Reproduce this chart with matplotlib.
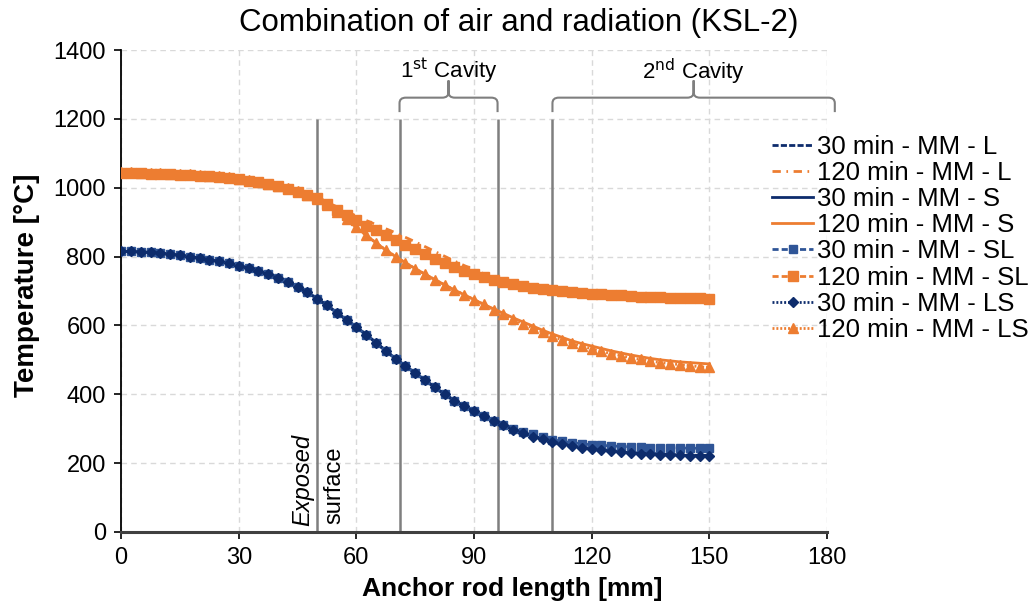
"""
Anchor rod temperature profiles, KSL-2, air + radiation boundary.
30 min vs 120 min for the four MM variants (L, S, SL, LS).
"""
import matplotlib
import numpy as np

matplotlib.use("Agg")
import matplotlib.pyplot as plt  # noqa: E402
from matplotlib.path import Path  # noqa: E402
from matplotlib.patches import PathPatch  # noqa: E402

# ---- data ----
rod_mm = np.arange(0, 150.1, 2.5)

t30_L = [815, 815, 814, 812, 810, 807, 804, 800, 796, 791,
         786, 780, 774, 766, 758, 748, 738, 726, 712, 696,
         678, 658, 637, 616, 595, 573, 550, 526, 503, 482,
         461, 441, 420, 400, 381, 365, 350, 336, 322, 310,
         299, 289, 279, 271, 263, 257, 251, 246, 242, 239,
         236, 233, 231, 229, 228, 226, 225, 224, 223, 222, 222]
t120_L = [1046, 1046, 1045, 1044, 1043, 1042, 1041, 1040, 1038, 1036,
          1034, 1031, 1028, 1024, 1019, 1013, 1007, 1000, 992, 984,
          975, 958, 945, 931, 918, 905, 893, 881, 869, 856,
          843, 829, 815, 801, 787, 774, 762, 750, 740, 731,
          724, 718, 712, 707, 703, 700, 697, 695, 693, 691,
          689, 688, 686, 685, 684, 683, 682, 681, 680, 680, 679]
t30_S = [815, 815, 814, 812, 810, 807, 804, 800, 796, 791,
         786, 780, 774, 766, 758, 748, 738, 726, 712, 696,
         678, 658, 637, 616, 595, 573, 550, 526, 503, 482,
         461, 441, 420, 400, 381, 365, 350, 336, 322, 310,
         298, 288, 278, 270, 262, 256, 250, 245, 241, 238,
         235, 232, 230, 228, 227, 225, 224, 223, 222, 221, 221]
t120_S = [1045, 1045, 1044, 1043, 1042, 1041, 1040, 1039, 1037, 1035,
          1033, 1030, 1027, 1023, 1018, 1012, 1006, 998, 990, 980,
          968, 950, 930, 908, 885, 862, 840, 819, 800, 782,
          765, 749, 733, 718, 703, 689, 675, 661, 648, 635,
          622, 610, 598, 586, 575, 565, 555, 547, 540, 533,
          526, 520, 514, 509, 504, 500, 497, 494, 492, 490, 488]
t30_SL = [815, 815, 814, 812, 810, 807, 804, 800, 796, 791,
          786, 780, 774, 766, 758, 748, 738, 726, 712, 696,
          678, 658, 637, 616, 595, 573, 550, 526, 503, 482,
          461, 441, 420, 400, 381, 365, 350, 336, 323, 311,
          300, 291, 283, 275, 268, 263, 259, 256, 253, 251,
          250, 248, 247, 246, 245, 245, 244, 244, 243, 243, 243]
t120_SL = [1043, 1043, 1042, 1041, 1040, 1039, 1038, 1037, 1035, 1033,
           1031, 1028, 1025, 1021, 1016, 1010, 1004, 997, 989, 980,
           970, 952, 936, 920, 905, 890, 876, 862, 849, 835,
           821, 807, 794, 781, 769, 758, 748, 740, 733, 726,
           720, 715, 710, 706, 702, 699, 696, 694, 692, 690,
           688, 687, 685, 684, 683, 682, 681, 680, 679, 679, 678]
t30_LS = [815, 815, 814, 812, 810, 807, 804, 800, 796, 791,
          786, 780, 774, 766, 758, 748, 738, 726, 712, 696,
          678, 658, 637, 616, 595, 573, 550, 526, 503, 482,
          461, 441, 420, 400, 381, 365, 350, 336, 322, 310,
          297, 287, 277, 269, 261, 255, 249, 244, 240, 237,
          234, 231, 229, 227, 225, 224, 223, 222, 221, 220, 220]
t120_LS = [1045, 1045, 1044, 1043, 1042, 1041, 1040, 1039, 1037, 1035,
           1033, 1030, 1027, 1023, 1018, 1012, 1006, 998, 990, 980,
           968, 950, 930, 908, 885, 862, 840, 819, 800, 782,
           765, 749, 733, 718, 703, 689, 675, 661, 646, 632,
           618, 605, 592, 580, 568, 558, 548, 540, 532, 525,
           518, 512, 506, 501, 496, 492, 489, 486, 483, 480, 478]

section_marks = [50, 71, 96, 110]          # exposed surface + cavity walls [mm]
cavities = [("1$^{\\rm st}$ Cavity", 71, 96), ("2$^{\\rm nd}$ Cavity", 110, 182)]

NAVY = "#0D2C6C"
BLUE = "#2F5597"
ORANGE = "#ED7D31"
GREY = "#7F7F7F"

plt.rcParams["font.family"] = ["Liberation Sans", "DejaVu Sans"]

fig = plt.figure(figsize=(10.35, 6.12), dpi=100)
ax = fig.add_axes([0.117, 0.131, 0.682, 0.787])

lw = 2.0
series = [
    ("30 min - MM - L", t30_L, dict(color=NAVY, dashes=(2.2, 0.8))),
    ("120 min - MM - L", t120_L, dict(color=ORANGE, dashes=(3.0, 2.0, 0.6, 2.0))),
    ("30 min - MM - S", t30_S, dict(color=NAVY)),
    ("120 min - MM - S", t120_S, dict(color=ORANGE)),
    ("30 min - MM - SL", t30_SL, dict(color=BLUE, dashes=(2.2, 1.1), marker="s", ms=6)),
    ("120 min - MM - SL", t120_SL, dict(color=ORANGE, dashes=(2.2, 1.1), marker="s", ms=6.5)),
    ("30 min - MM - LS", t30_LS, dict(color=NAVY, dashes=(0.7, 0.7), marker="D", ms=5.5)),
    ("120 min - MM - LS", t120_LS, dict(color=ORANGE, dashes=(0.7, 0.7), marker="^", ms=7.5)),
]
for label, temps, style in series:
    ax.plot(rod_mm, temps, lw=lw, label=label, zorder=3, **style)

# section lines: exposed surface and cavity boundaries
ax.vlines(section_marks, 0, 1200, colors=GREY, lw=1.8, zorder=2)

ax.text(46.3, 18, "Exposed", rotation=90, style="italic", fontsize=17,
        ha="center", va="bottom")
ax.text(54.3, 22, "surface", rotation=90, fontsize=17, ha="center", va="bottom")


def brace(ax, x0, x1, y_end=1220, y_bar=1262, y_tip=1312, rx=1.6, ry=16):
    xc = (x0 + x1) / 2
    verts, codes = [], []
    for xe, s in ((x0, 1), (x1, -1)):
        verts += [(xe, y_end), (xe, y_bar - ry), (xe, y_bar), (xe + s * rx, y_bar),
                  (xc - s * rx, y_bar), (xc, y_bar), (xc, y_bar + ry), (xc, y_tip)]
        codes += [Path.MOVETO, Path.LINETO, Path.CURVE3, Path.CURVE3,
                  Path.LINETO, Path.CURVE3, Path.CURVE3, Path.LINETO]
    ax.add_patch(PathPatch(Path(verts, codes), fill=False, edgecolor=GREY,
                           lw=1.5, clip_on=False, zorder=2))
    return xc


for name, x0, x1 in cavities:
    xc = brace(ax, x0, x1)
    ax.text(xc, 1338, name, fontsize=16, ha="center", va="center")

ax.set_xlim(0, 180)
ax.set_ylim(0, 1400)
ax.set_xticks(np.arange(0, 181, 30))
ax.set_yticks(np.arange(0, 1401, 200))
ax.tick_params(labelsize=17, length=5, width=1.2, direction="out", pad=6)
ax.grid(True, color="#D9D9D9", lw=1.0, linestyle=(0, (4, 3)), zorder=0)
ax.set_axisbelow(True)
for side in ("top", "right"):
    ax.spines[side].set_visible(False)
ax.spines["left"].set_linewidth(1.3)
ax.spines["bottom"].set_linewidth(2.2)
ax.spines["bottom"].set_color("#404040")

fig.text(0.501, 0.963, "Combination of air and radiation (KSL-2)", fontsize=22.5,
         ha="center", va="center")
fig.text(0.495, 0.038, "Anchor rod length [mm]", fontsize=19, fontweight="bold",
         ha="center", va="center")
fig.text(0.026, 0.534, "Temperature [°C]", fontsize=20, fontweight="bold",
         rotation=90, ha="center", va="center")

ax.legend(loc="upper left", bbox_to_anchor=(0.746, 0.779), bbox_transform=fig.transFigure,
          frameon=False, fontsize=18.5, handlelength=1.6, handletextpad=0.15,
          labelspacing=0.08, borderpad=0, borderaxespad=0, numpoints=1)

fig.savefig("out.png", dpi=100)
plt.close(fig)
